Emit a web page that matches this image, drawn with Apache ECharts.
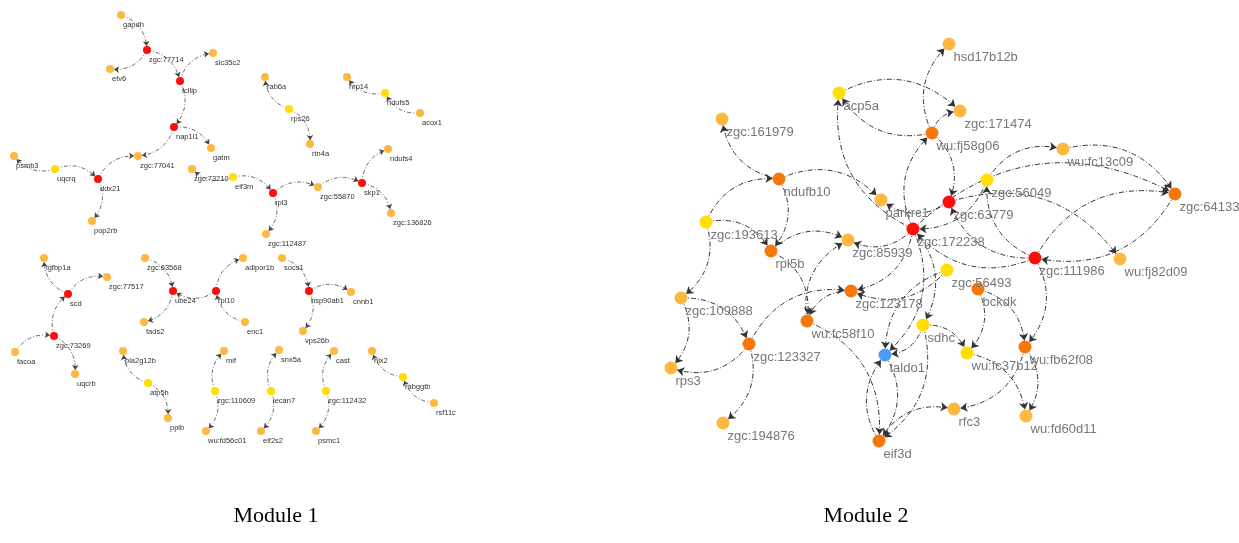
<!DOCTYPE html>
<html>
<head>
<meta charset="utf-8">
<script src="https://cdn.jsdelivr.net/npm/echarts@6/dist/echarts.min.js"></script>
<style>
  html, body { margin: 0; padding: 0; background: #fff; }
  #main { width: 1239px; height: 543px; }
</style>
</head>
<body>
<div id="main"></div>
<script>
// 节点等级 -> 颜色分类
var levelNames = ['red', 'orange', 'light', 'yellow', 'blue'];

// Module 1 节点
var m1Names = ['gapdh', 'zgc:77714', 'etv6', 'slc35c2', 'fcllip', 'nap1l1', 'gatm', 'zgc:77041', 'ddx21', 'psmb3',
    'uqcrq', 'pop2rb', 'zgc:73210', 'eif3m', 'rpl3', 'zgc:55870', 'skp1', 'ndufs4', 'zgc:136826', 'zgc:112487',
    'rab6a', 'rps26', 'rtn4a', 'hrp14', 'ndufs5', 'acox1', 'igfbp1a', 'zgc:77517', 'scd', 'zgc:73269',
    'facoa', 'uqcrb', 'zgc:63568', 'ube24', 'rpl10', 'adipor1b', 'enc1', 'fads2', 'socs1', 'hsp90ab1',
    'cnnb1', 'vps26b', 'pla2g12b', 'atp5h', 'ppib', 'mif', 'zgc:110609', 'wu:fd56c01', 'snx5a', 'lecan7',
    'eif2s2', 'cast', 'zgc:112432', 'psmc1', 'nlx2', 'rabggtb', 'rsf11c'];
var m1X = [121, 147, 110, 213, 180, 174, 211, 138, 98, 14,
    55, 92, 192, 233, 273, 318, 362, 388, 391, 266,
    265, 289, 310, 347, 385, 420, 44, 107, 68, 54,
    15, 75, 145, 173, 216, 243, 245, 144, 282, 309,
    351, 303, 123, 148, 168, 224, 215, 206, 279, 271,
    261, 334, 326, 316, 372, 403, 434];
var m1Y = [15, 50, 69, 53, 81, 127, 148, 156, 179, 156,
    169, 221, 169, 177, 193, 187, 183, 149, 213, 234,
    77, 109, 144, 77, 93, 113, 258, 277, 294, 336,
    352, 374, 258, 291, 291, 258, 322, 322, 258, 291,
    292, 331, 351, 383, 418, 351, 391, 431, 350, 391,
    431, 351, 391, 431, 351, 377, 403];
var m1Level = [2, 0, 2, 2, 0, 0, 2, 2, 0, 2,
    3, 2, 2, 3, 0, 2, 0, 2, 2, 2,
    2, 3, 2, 2, 3, 2, 2, 2, 0, 0,
    2, 2, 2, 0, 0, 2, 2, 2, 2, 0,
    2, 2, 2, 3, 2, 2, 3, 2, 2, 3,
    2, 2, 3, 2, 2, 3, 2];
var m1Links = [
    ['gapdh', 'zgc:77714'], ['zgc:77714', 'etv6'], ['zgc:77714', 'fcllip'], ['fcllip', 'slc35c2'],
    ['fcllip', 'nap1l1'], ['nap1l1', 'gatm'], ['nap1l1', 'zgc:77041'], ['ddx21', 'zgc:77041'],
    ['uqcrq', 'ddx21'], ['uqcrq', 'psmb3'], ['ddx21', 'pop2rb'], ['eif3m', 'zgc:73210'],
    ['eif3m', 'rpl3'], ['rpl3', 'zgc:112487'], ['rpl3', 'zgc:55870'], ['zgc:55870', 'skp1'],
    ['skp1', 'ndufs4'], ['skp1', 'zgc:136826'], ['rps26', 'rab6a'], ['rps26', 'rtn4a'],
    ['ndufs5', 'hrp14'], ['acox1', 'ndufs5'], ['zgc:73269', 'scd'], ['scd', 'igfbp1a'],
    ['scd', 'zgc:77517'], ['facoa', 'zgc:73269'], ['zgc:73269', 'uqcrb'], ['zgc:63568', 'ube24'],
    ['ube24', 'fads2'], ['rpl10', 'ube24'], ['rpl10', 'adipor1b'], ['enc1', 'rpl10'],
    ['socs1', 'hsp90ab1'], ['hsp90ab1', 'cnnb1'], ['hsp90ab1', 'vps26b'], ['atp5h', 'pla2g12b'],
    ['atp5h', 'ppib'], ['zgc:110609', 'mif'], ['zgc:110609', 'wu:fd56c01'], ['lecan7', 'snx5a'],
    ['lecan7', 'eif2s2'], ['zgc:112432', 'cast'], ['zgc:112432', 'psmc1'], ['rabggtb', 'nlx2'],
    ['rsf11c', 'rabggtb']
];

// Module 2 节点
var m2Names = ['hsd17b12b', 'acp5a', 'zgc:171474', 'wu:fj58g06', 'zgc:161979', 'ndufb10', 'parkrc1', 'zgc:63779',
    'zgc:56049', 'wu:fc13c09', 'zgc:64133', 'zgc:172238', 'zgc:85939', 'zgc:193613', 'rpl5b', 'zgc:111986',
    'wu:fj82d09', 'zgc:56493', 'bckdk', 'zgc:123178', 'zgc:109888', 'wu:fc58f10', 'sdhc', 'taldo1',
    'wu:fc37b12', 'wu:fb62f08', 'zgc:123327', 'rps3', 'rfc3', 'wu:fd60d11', 'eif3d', 'zgc:194876'];
var m2X = [949, 839, 960, 932, 722, 779, 881, 949,
    987, 1063, 1175, 913, 848, 706, 771, 1035,
    1120, 947, 978, 851, 681, 807, 923, 885,
    967, 1025, 749, 671, 954, 1026, 879, 723];
var m2Y = [44, 93, 111, 133, 119, 179, 200, 202,
    180, 149, 194, 229, 240, 222, 251, 258,
    259, 270, 289, 291, 298, 321, 325, 355,
    353, 347, 344, 368, 409, 416, 441, 423];
var m2Level = [2, 3, 2, 1, 2, 1, 2, 0,
    3, 2, 1, 0, 2, 3, 1, 0,
    2, 3, 1, 1, 2, 1, 3, 4,
    3, 1, 1, 2, 2, 2, 1, 2];
var m2Links = [
    ['wu:fj58g06', 'hsd17b12b'], ['acp5a', 'zgc:171474'], ['wu:fj58g06', 'acp5a'], ['wu:fj58g06', 'zgc:171474'],
    ['zgc:172238', 'wu:fj58g06'], ['wu:fj58g06', 'zgc:63779'], ['zgc:172238', 'acp5a'], ['ndufb10', 'zgc:161979'],
    ['zgc:193613', 'ndufb10'], ['ndufb10', 'parkrc1'], ['ndufb10', 'rpl5b'], ['zgc:193613', 'rpl5b'],
    ['zgc:193613', 'zgc:109888'], ['rpl5b', 'zgc:85939'], ['zgc:172238', 'zgc:85939'], ['zgc:172238', 'zgc:123178'],
    ['zgc:56493', 'zgc:123178'], ['zgc:123327', 'zgc:123178'], ['wu:fc58f10', 'zgc:85939'], ['zgc:123178', 'wu:fc58f10'],
    ['rpl5b', 'wu:fc58f10'], ['wu:fc58f10', 'eif3d'], ['zgc:109888', 'zgc:123327'], ['zgc:109888', 'rps3'],
    ['zgc:123327', 'rps3'], ['zgc:123327', 'zgc:194876'], ['zgc:63779', 'parkrc1'], ['zgc:111986', 'zgc:63779'],
    ['zgc:63779', 'wu:fj82d09'], ['zgc:56049', 'wu:fc13c09'], ['wu:fc13c09', 'zgc:64133'], ['zgc:172238', 'zgc:64133'],
    ['zgc:111986', 'zgc:64133'], ['zgc:64133', 'zgc:111986'], ['zgc:111986', 'zgc:56049'], ['zgc:56049', 'zgc:172238'],
    ['zgc:111986', 'zgc:172238'], ['zgc:111986', 'wu:fb62f08'], ['bckdk', 'wu:fb62f08'], ['bckdk', 'wu:fc37b12'],
    ['sdhc', 'wu:fc37b12'], ['sdhc', 'taldo1'], ['zgc:172238', 'taldo1'], ['zgc:172238', 'sdhc'],
    ['zgc:56493', 'taldo1'], ['eif3d', 'taldo1'], ['taldo1', 'eif3d'], ['sdhc', 'eif3d'],
    ['eif3d', 'rfc3'], ['wu:fb62f08', 'rfc3'], ['wu:fc37b12', 'wu:fd60d11'], ['wu:fb62f08', 'wu:fd60d11']
];
// 反向弯曲的边
var m2Flip = ['zgc:123178>wu:fc58f10', 'zgc:56493>taldo1'];

var colors = ['#ff0d0d', '#f8770a', '#fdb93f', '#ffde00', '#4a9cf8'];

function buildNodes(names, xs, ys, levels) {
    var arr = [];
    for (var i = 0; i < names.length; i++) {
        arr.push({ name: names[i], value: [xs[i], ys[i]], category: levels[i] });
    }
    return arr;
}

function buildLinks(links, curve, flip) {
    var arr = [];
    for (var i = 0; i < links.length; i++) {
        var key = links[i][0] + '>' + links[i][1];
        var c = (flip && flip.indexOf(key) >= 0) ? -curve : curve;
        arr.push({ source: links[i][0], target: links[i][1], lineStyle: { curveness: c } });
    }
    return arr;
}

var cats = [];
for (var k = 0; k < levelNames.length; k++) {
    cats.push({ name: levelNames[k], itemStyle: { color: colors[k] } });
}

var oChart = echarts.init(document.getElementById('main'));
var chartopt = {
    backgroundColor: '#fff',
    animation: false,
    grid: { left: 0, right: 0, top: 0, bottom: 0 },
    xAxis: { type: 'value', min: 0, max: 1239, show: false },
    yAxis: { type: 'value', min: 0, max: 543, inverse: true, show: false },
    graphic: [
        { type: 'text', x: 276, y: 505, style: { text: 'Module 1', font: '22px "Liberation Serif"', fill: '#000', textAlign: 'center' } },
        { type: 'text', x: 866, y: 505, style: { text: 'Module 2', font: '22px "Liberation Serif"', fill: '#000', textAlign: 'center' } }
    ],
    series: [{
        name: 'Module 1',
        type: 'graph',
        coordinateSystem: 'cartesian2d',
        categories: cats,
        symbolSize: 8,
        edgeSymbol: ['none', 'arrow'],
        edgeSymbolSize: [0, 5],
        label: {
            show: true,
            position: [6, 10],
            fontSize: 7.5,
            color: '#333',
            fontFamily: 'Liberation Sans'
        },
        lineStyle: { color: '#444', width: 0.8, type: [4, 2, 1, 2], opacity: 1 },
        emphasis: { disabled: true },
        data: buildNodes(m1Names, m1X, m1Y, m1Level),
        links: buildLinks(m1Links, 0.34)
    }, {
        name: 'Module 2',
        type: 'graph',
        coordinateSystem: 'cartesian2d',
        categories: cats,
        symbolSize: 13,
        edgeSymbol: ['none', 'arrow'],
        edgeSymbolSize: [0, 7],
        label: {
            show: true,
            position: [11, 13],
            fontSize: 13,
            color: '#777',
            fontFamily: 'Liberation Sans'
        },
        lineStyle: { color: '#333', width: 1, type: [5, 2, 1, 2], opacity: 1 },
        emphasis: { disabled: true },
        data: buildNodes(m2Names, m2X, m2Y, m2Level),
        links: buildLinks(m2Links, 0.36, m2Flip)
    }]
};
oChart.setOption(chartopt);
</script>
</body>
</html>
